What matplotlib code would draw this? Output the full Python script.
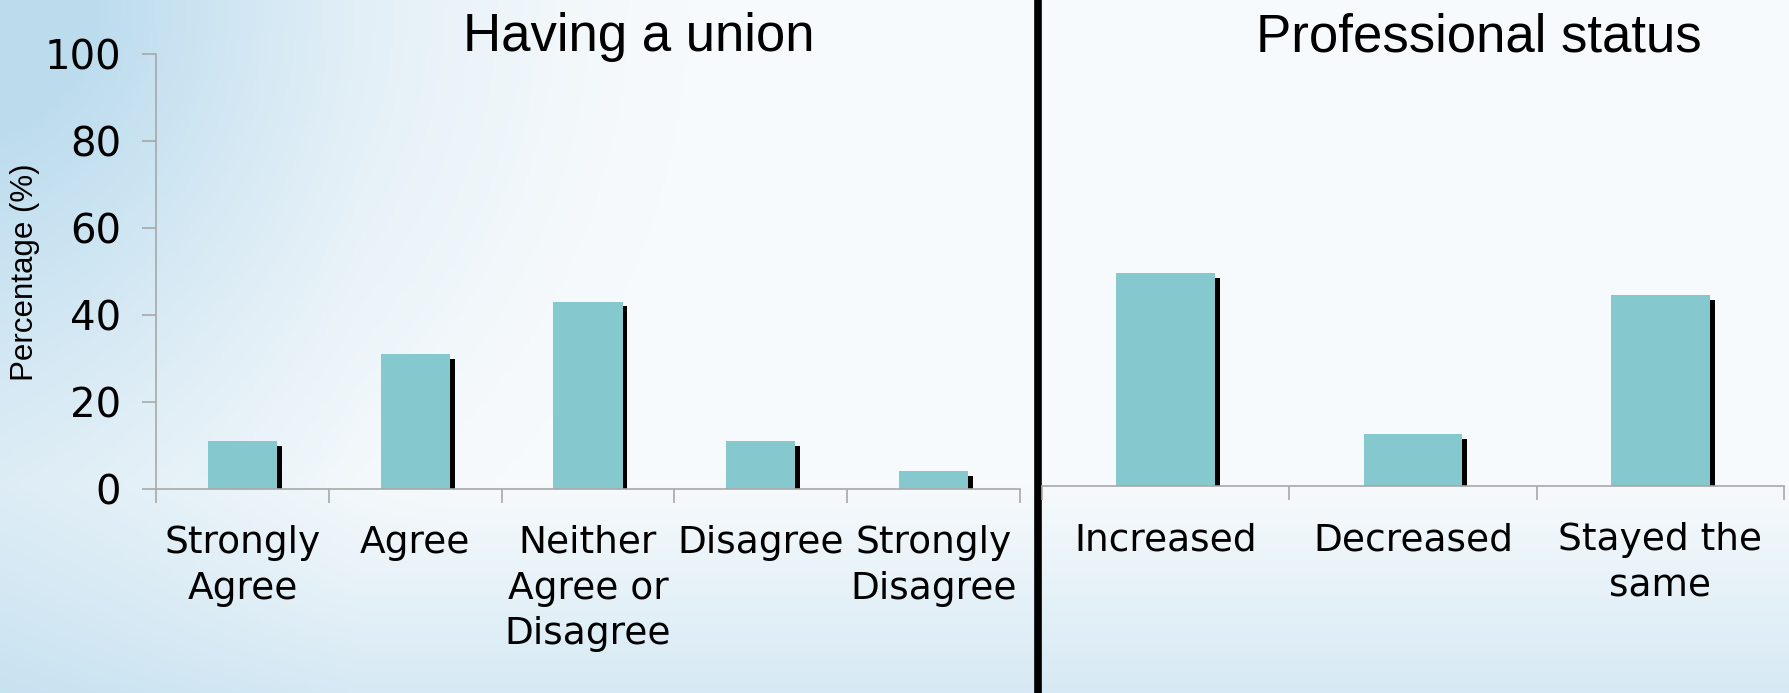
import numpy as np
import matplotlib
matplotlib.use("Agg")
import matplotlib.pyplot as plt
import matplotlib.patheffects as pe
from matplotlib.colors import to_rgb

# データ
union_labels = ["Strongly\nAgree", "Agree", "Neither\nAgree or\nDisagree", "Disagree", "Strongly\nDisagree"]
union_values = [11, 31, 43, 11, 4]
status_labels = ["Increased", "Decreased", "Stayed the\nsame"]
status_values = [49, 12, 44]

BAR_COLOR = "#85c9ce"
AXIS_GRAY = "#a8a8a8"
W, H, DPI = 1790, 693, 100

fig = plt.figure(figsize=(W / DPI, H / DPI), dpi=DPI)

# 背景グラデーション
bg = fig.add_axes([0, 0, 1, 1])
yy, xx = np.mgrid[0:1:200j, 0:1:500j]
r = np.sqrt((xx * 2.6) ** 2 + yy ** 2)
w_corner = np.clip(1 - r / 1.0, 0, 1) ** 1.4
w_left = np.clip(1 - xx / 0.2, 0, 1) * 0.25
w_bottom = np.clip((yy - 0.7) / 0.3, 0, 1) * 0.55
w = np.clip(w_corner + w_left + w_bottom, 0, 1)[..., None]
white = np.array(to_rgb("#f7fafc"))
blue = np.array(to_rgb("#bcdcee"))
img = white * (1 - w) + blue * w
bg.imshow(img, aspect="auto", extent=[0, 1, 1, 0])
bg.set_xlim(0, 1)
bg.set_ylim(1, 0)
bg.axis("off")

shadow = [pe.SimplePatchShadow(offset=(3.5, -3.5), shadow_rgbFace="black", alpha=1.0), pe.Normal()]


def setup_axis(ax, n, labels, show_left):
    ax.set_facecolor("none")
    ax.set_xlim(-0.5, n - 0.5)
    ax.set_ylim(0, 100)
    for s in ["top", "right"]:
        ax.spines[s].set_visible(False)
    ax.spines["bottom"].set_color(AXIS_GRAY)
    ax.spines["bottom"].set_linewidth(1.2)
    ax.set_xticks(range(n))
    ax.set_xticklabels(labels, fontsize=27, family="DejaVu Sans", linespacing=1.35)
    ax.tick_params(axis="x", which="major", length=0, pad=26)
    ax.set_xticks(np.arange(-0.5, n, 1.0), minor=True)
    ax.tick_params(axis="x", which="minor", length=10, width=1.2, color=AXIS_GRAY)
    if show_left:
        ax.spines["left"].set_color(AXIS_GRAY)
        ax.spines["left"].set_linewidth(1.2)
        ax.set_yticks(range(0, 101, 20))
        ax.tick_params(axis="y", length=10, width=1.2, color=AXIS_GRAY, pad=15, labelsize=29)
        for t in ax.get_yticklabels():
            t.set_family("DejaVu Sans")
    else:
        ax.spines["left"].set_visible(False)
        ax.set_yticks([])


# 左パネル
ax1 = fig.add_axes([156 / W, (H - 488.6) / H, (1020 - 156) / W, 435 / H])
setup_axis(ax1, len(union_values), union_labels, True)
bars = ax1.bar(range(len(union_values)), union_values, width=0.4, color=BAR_COLOR)
for b in bars:
    b.set_path_effects(shadow)

# 右パネル
ax2 = fig.add_axes([1042 / W, (H - 486.3) / H, (1784 - 1042) / W, 435 / H])
setup_axis(ax2, len(status_values), status_labels, False)
bars = ax2.bar(range(len(status_values)), status_values, width=0.4, color=BAR_COLOR)
for b in bars:
    b.set_path_effects(shadow)

# タイトル
fig.text(639 / W, 1 - 51 / H, "Having a union", ha="center", va="baseline",
         fontsize=38, family="Liberation Sans")
fig.text(1479 / W, 1 - 51 / H, "Professional status", ha="center", va="baseline",
         fontsize=38, family="Liberation Sans")
fig.text(25 / W, 1 - 272 / H, "Percentage (%)", ha="center", va="center", rotation=90,
         fontsize=22.5, family="Liberation Sans")

# 区切り線
bg.plot([1037.5 / W, 1037.5 / W], [0, 1], color="black", linewidth=5.5, solid_capstyle="butt")

fig.savefig("out.png", dpi=DPI)
